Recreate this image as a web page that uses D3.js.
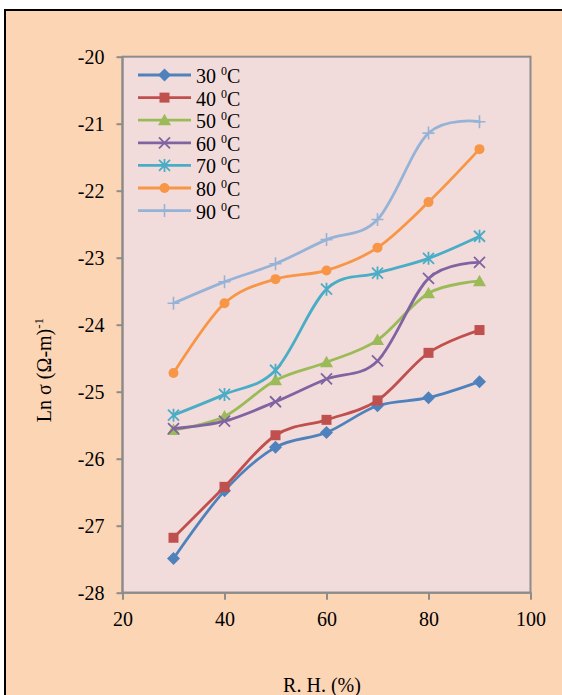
<!DOCTYPE html>
<html>
<head>
<meta charset="utf-8">
<script src="https://cdn.jsdelivr.net/npm/d3@7/dist/d3.min.js"></script>
<style>
  html, body { margin: 0; padding: 0; background: #ffffff; }
  svg { display: block; }
  text { font-family: "Liberation Serif", "Times New Roman", serif; fill: #000; }
</style>
</head>
<body>
<svg id="chart" width="562" height="695"></svg>
<script>
// Relative humidity (%) on the x axis
const humidity = [30, 40, 50, 60, 70, 80, 90];

// Temperature series (°C) and their ln σ values
const temps = [30, 40, 50, 60, 70, 80, 90];
const s30 = [-27.49, -26.48, -25.83, -25.61, -25.21, -25.09, -24.85];
const s40 = [-27.18, -26.42, -25.65, -25.42, -25.13, -24.42, -24.08];
const s50 = [-25.57, -25.37, -24.83, -24.56, -24.23, -23.53, -23.35];
const s60 = [-25.55, -25.44, -25.15, -24.81, -24.54, -23.31, -23.07];
const s70 = [-25.35, -25.04, -24.68, -23.47, -23.23, -23.01, -22.68];
const s80 = [-24.72, -23.68, -23.32, -23.19, -22.85, -22.17, -21.38];
const s90 = [-23.68, -23.36, -23.09, -22.73, -22.43, -21.14, -20.97];
const seriesValues = [s30, s40, s50, s60, s70, s80, s90];

// Axis ticks
const xTicks = [20, 40, 60, 80, 100];
const yTicks = [-20, -21, -22, -23, -24, -25, -26, -27, -28];

const colors = ["#4F81BD", "#C0504D", "#9BBB59", "#8064A2", "#4BACC6", "#F79646", "#95B3D7"];
const markerKinds = ["diamond", "square", "triangle", "x", "star", "circle", "plus"];

const svg = d3.select("#chart");

// Chart frame
svg.append("rect")
  .attr("x", 5).attr("y", 10)
  .attr("width", 620).attr("height", 720)
  .attr("fill", "#FCD5B5")
  .attr("stroke", "#000").attr("stroke-width", 2);

const plot = { left: 122.5, right: 530.5, top: 56.7, bottom: 592.7 };

const x = d3.scaleLinear().domain([20, 100]).range([plot.left, plot.right]);
const y = d3.scaleLinear().domain([-28, -20]).range([plot.bottom, plot.top]);

// Plot area
svg.append("rect")
  .attr("x", plot.left).attr("y", plot.top)
  .attr("width", plot.right - plot.left).attr("height", plot.bottom - plot.top)
  .attr("fill", "#F2DCDB")
  .attr("stroke", "#8C8C8C").attr("stroke-width", 2);

// Axes
const yAxis = d3.axisLeft(y).tickValues(yTicks).tickSize(6).tickPadding(12)
  .tickFormat(d => String(d));
const gy = svg.append("g").attr("transform", `translate(${plot.left},0)`).call(yAxis);
gy.select(".domain").remove();
gy.selectAll(".tick line").attr("stroke", "#8C8C8C").attr("stroke-width", 2);
gy.selectAll(".tick text").attr("font-size", 20).attr("font-family", "Liberation Serif");

const xAxis = d3.axisBottom(x).tickValues(xTicks).tickSize(7).tickPadding(0)
  .tickFormat(d => String(d));
const gx = svg.append("g").attr("transform", `translate(0,${plot.bottom})`).call(xAxis);
gx.select(".domain").remove();
gx.selectAll(".tick line").attr("stroke", "#8C8C8C").attr("stroke-width", 2);
gx.selectAll(".tick text").attr("font-size", 20).attr("font-family", "Liberation Serif")
  .attr("y", 33).attr("dy", null);

// Axis lines drawn over the ticks
svg.append("line").attr("x1", plot.left).attr("x2", plot.left)
  .attr("y1", plot.top).attr("y2", plot.bottom + 1)
  .attr("stroke", "#8C8C8C").attr("stroke-width", 2);
svg.append("line").attr("x1", plot.left - 1).attr("x2", plot.right + 1)
  .attr("y1", plot.bottom).attr("y2", plot.bottom)
  .attr("stroke", "#8C8C8C").attr("stroke-width", 2);

// Axis titles
svg.append("text")
  .attr("x", 322).attr("y", 692)
  .attr("text-anchor", "middle").attr("font-size", 20)
  .text("R. H. (%)");

const yt = svg.append("text")
  .attr("transform", "translate(51,370) rotate(-90)")
  .attr("text-anchor", "middle").attr("font-size", 20);
yt.append("tspan").text("Ln σ (Ω-m)");
yt.append("tspan").attr("dy", -8).attr("font-size", 13).text("-1");

// Marker drawing
function drawMarker(g, kind, color) {
  switch (kind) {
    case "diamond":
      g.append("path").attr("d", "M0,-6.5L6.5,0L0,6.5L-6.5,0Z").attr("fill", color);
      break;
    case "square":
      g.append("rect").attr("x", -5).attr("y", -5).attr("width", 10).attr("height", 10).attr("fill", color);
      break;
    case "triangle":
      g.append("path").attr("d", "M0,-6.5L6.5,5L-6.5,5Z").attr("fill", color);
      break;
    case "x":
      g.append("path").attr("d", "M-5.5,-5.5L5.5,5.5M-5.5,5.5L5.5,-5.5")
        .attr("stroke", color).attr("stroke-width", 1.8).attr("fill", "none");
      break;
    case "star":
      g.append("path").attr("d", "M-5.5,-5.5L5.5,5.5M-5.5,5.5L5.5,-5.5M0,-6.5L0,6.5")
        .attr("stroke", color).attr("stroke-width", 1.8).attr("fill", "none");
      break;
    case "circle":
      g.append("circle").attr("r", 5).attr("fill", color);
      break;
    case "plus":
      g.append("path").attr("d", "M-6,0L6,0M0,-6.5L0,6.5")
        .attr("stroke", color).attr("stroke-width", 1.6).attr("fill", "none");
      break;
  }
}

// Series lines (smoothed) and markers
const line = d3.line()
  .x((d, i) => x(humidity[i]))
  .y(d => y(d))
  .curve(d3.curveCatmullRom.alpha(0));

seriesValues.forEach((vals, si) => {
  const g = svg.append("g");
  g.append("path")
    .attr("d", line(vals))
    .attr("fill", "none")
    .attr("stroke", colors[si])
    .attr("stroke-width", 2.8)
    .attr("stroke-linejoin", "round")
    .attr("stroke-linecap", "round");
  vals.forEach((v, i) => {
    const m = g.append("g").attr("transform", `translate(${x(humidity[i])},${y(v)})`);
    drawMarker(m, markerKinds[si], colors[si]);
  });
});

// Legend
const legend = svg.append("g");
temps.forEach((t, i) => {
  const ry = 75 + i * 22.6;
  const row = legend.append("g");
  row.append("line").attr("x1", 138).attr("x2", 191).attr("y1", ry).attr("y2", ry)
    .attr("stroke", colors[i]).attr("stroke-width", 2.8);
  const m = row.append("g").attr("transform", `translate(164.5,${ry})`);
  drawMarker(m, markerKinds[i], colors[i]);
  const txt = row.append("text").attr("x", 196).attr("y", ry + 8).attr("font-size", 20);
  txt.append("tspan").text(t + " ");
  txt.append("tspan").attr("dy", -8).attr("font-size", 12).text("0");
  txt.append("tspan").attr("dy", 8).text("C");
});
</script>
</body>
</html>
